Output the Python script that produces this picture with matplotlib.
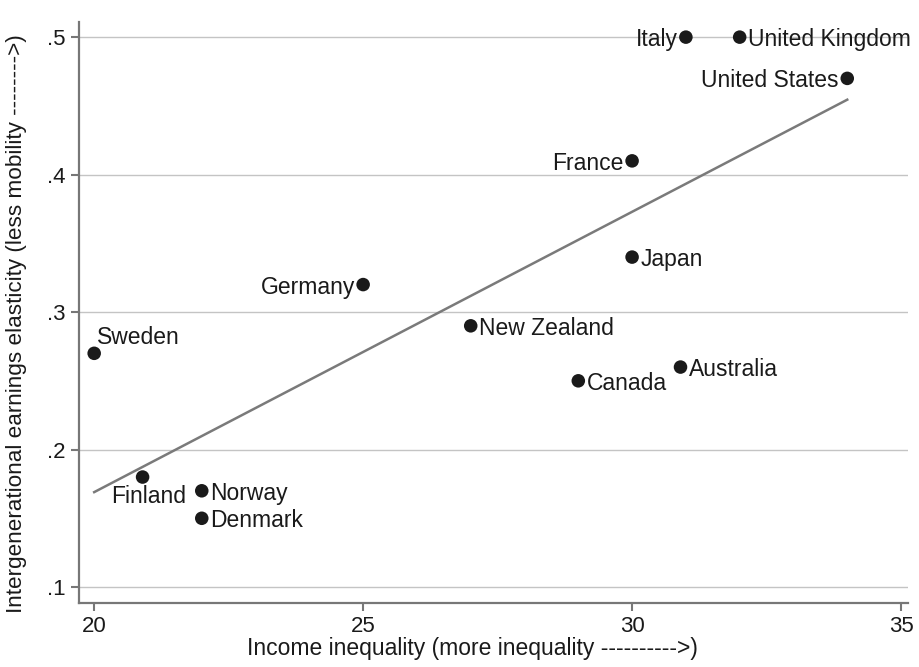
import numpy as np
import matplotlib
matplotlib.use("Agg")
import matplotlib.pyplot as plt
from matplotlib.ticker import FuncFormatter

plt.rcParams['font.family'] = ['Liberation Sans', 'DejaVu Sans']

# Income inequality vs. intergenerational earnings elasticity
countries = ['Italy', 'United Kingdom', 'United States', 'France', 'Japan',
             'Germany', 'New Zealand', 'Canada', 'Australia', 'Sweden',
             'Finland', 'Norway', 'Denmark']
inequality = [31, 32, 34, 30, 30, 25, 27, 29, 30.9, 20, 20.9, 22, 22]
elasticity = [0.50, 0.50, 0.47, 0.41, 0.34, 0.32, 0.29, 0.25, 0.26, 0.27,
              0.18, 0.17, 0.15]

# where each label sits relative to its marker
label_side = {'Italy': 'left', 'United States': 'left', 'France': 'left',
              'Germany': 'left', 'Sweden': 'upright', 'Finland': 'below'}

x_ticks = [20, 25, 30, 35]
y_ticks = [0.1, 0.2, 0.3, 0.4, 0.5]

fs = 16.5

fig = plt.figure(figsize=(9.2, 6.67), dpi=100)
ax = fig.add_axes([0.086, 0.096, 0.901, 0.871])

ax.set_xlim(19.72, 35.13)
ax.set_ylim(0.0884, 0.511)

for y in y_ticks:
    ax.axhline(y, color='#c4c4c4', lw=1.0, zorder=0)

# least squares fit line across the observed range
slope, intercept = np.polyfit(inequality, elasticity, 1)
xs = np.array([min(inequality), max(inequality)])
ax.plot(xs, slope * xs + intercept, color='#7a7a7a', lw=1.8, zorder=1)

ax.scatter(inequality, elasticity, s=95, color='#1a1a1a', zorder=3,
           edgecolors='none')

for name, x, y in zip(countries, inequality, elasticity):
    side = label_side.get(name, 'right')
    if side == 'left':
        kw = dict(xytext=(-6, 0), ha='right', va='center_baseline')
    elif side == 'upright':
        kw = dict(xytext=(2, 7), ha='left', va='baseline')
    elif side == 'below':
        kw = dict(xytext=(4, -6), ha='center', va='top')
    else:
        kw = dict(xytext=(6, 0), ha='left', va='center_baseline')
    ax.annotate(name, (x, y), textcoords='offset points', fontsize=fs,
                color='#1a1a1a', **kw)

ax.set_xticks(x_ticks)
ax.set_yticks(y_ticks)
ax.yaxis.set_major_formatter(FuncFormatter(lambda v, p: ('%.1f' % v).lstrip('0')))
ax.tick_params(axis='both', colors='#777777', labelcolor='#1a1a1a',
               labelsize=16, length=6, width=1.5, direction='out')

for s in ['top', 'right']:
    ax.spines[s].set_visible(False)
for s in ['left', 'bottom']:
    ax.spines[s].set_color('#777777')
    ax.spines[s].set_linewidth(1.6)

ax.set_xlabel('Income inequality (more inequality ---------->)', fontsize=16.5,
              color='#1a1a1a')
ax.set_ylabel('Intergenerational earnings elasticity (less mobility -------->)',
              fontsize=16.2, color='#1a1a1a')
ax.xaxis.set_label_coords(0.475, -0.058)
ax.yaxis.set_label_coords(-0.063, 0.48)

fig.savefig('out.png', dpi=100)
